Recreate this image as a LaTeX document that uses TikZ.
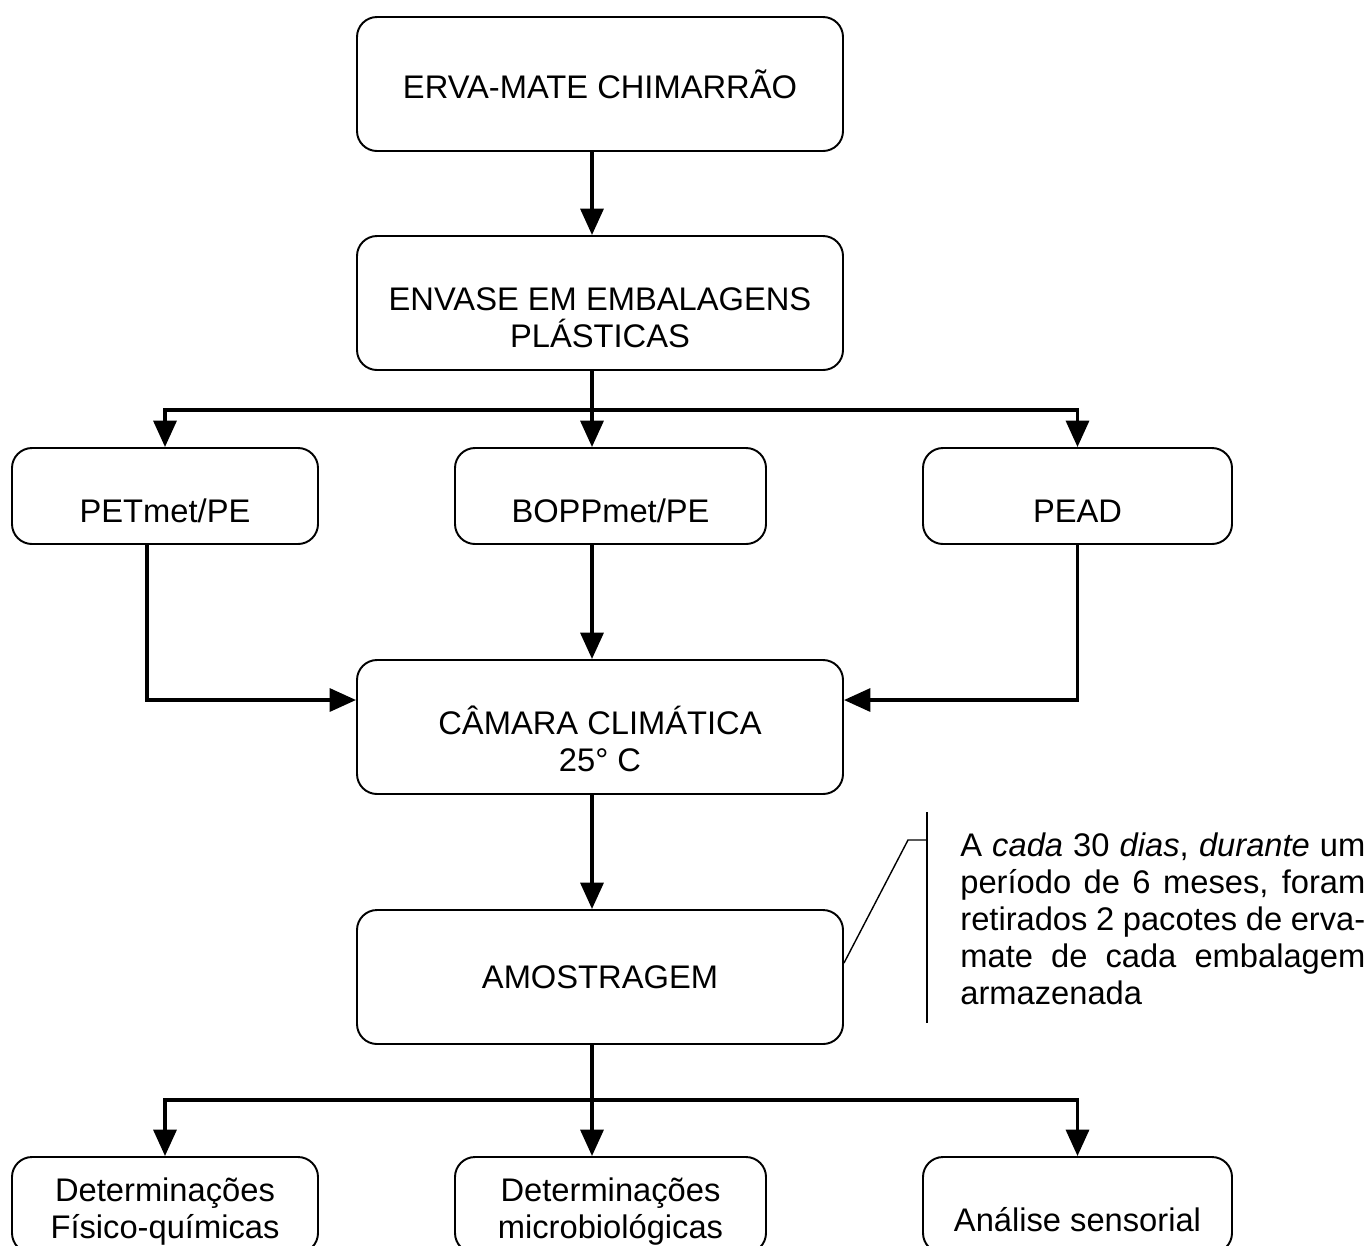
\documentclass[tikz,border=0pt]{standalone}
\usepackage{fontspec}
\setmainfont{Liberation Sans}
\usepackage{tikz}
\usetikzlibrary{arrows.meta, positioning, calc}

\begin{document}
\begin{tikzpicture}[
  box/.style={rectangle, draw, rounded corners=0.4cm, line width=1.1pt,
              minimum width=9.72cm, minimum height=2.68cm,
              font=\fontsize{18.6}{21}\selectfont, align=center},
  smallbox/.style={box, minimum height=1.92cm},
  twoline/.style={text height=50.4pt, text depth=0pt},
  oneline/.style={text height=30pt, text depth=0pt},
  twolinelow/.style={text height=37.8pt, text depth=0pt},
  arr/.style={-{Triangle[length=15pt, width=13pt]}, line width=2.1pt},
  bus/.style={line width=2.1pt},
  callout/.style={line width=0.8pt},
]
\useasboundingbox (0,0) rectangle (27.4,-24.9);

% main column
\node[box] (erva)   at (12.0,-1.68)  {ERVA-MATE CHIMARRÃO};
\node[box, twoline] (envase) at (12.0,-6.06)  {ENVASE EM EMBALAGENS\\PLÁSTICAS};
\node[box, twoline] (camara) at (12.0,-14.54) {CÂMARA CLIMÁTICA\\25° C};
\node[box] (amostra) at (12.0,-19.54) {AMOSTRAGEM};

% packaging
\node[smallbox, oneline, minimum width=6.12cm] (pet)  at (3.3,-9.92)   {PETmet/PE};
\node[smallbox, oneline, minimum width=6.22cm] (bopp) at (12.21,-9.92) {BOPPmet/PE};
\node[smallbox, oneline, minimum width=6.18cm] (pead) at (21.55,-9.92) {PEAD};

% analyses
\node[smallbox, twolinelow, minimum width=6.12cm] (fisqui) at (3.3,-24.1)   {Determinações\\Físico-químicas};
\node[smallbox, twolinelow, minimum width=6.22cm] (micro)  at (12.21,-24.1) {Determinações\\microbiológicas};
\node[smallbox, oneline, minimum width=6.18cm]    (sens)   at (21.55,-24.1) {Análise sensorial};

% connectors
\coordinate (bus1) at (11.84,-8.2);
\coordinate (bus2) at (11.84,-22.0);
\draw[arr] (erva.south -| bus1) -- (envase.north -| bus1);
\draw[bus] (envase.south -| bus1) -- (bus1);
\draw[arr] (bus1) -| (pet.north);
\draw[arr] (bus1) -| (pead.north);
\draw[arr] (bus1) -- (bopp.north -| bus1);
\draw[arr] ([xshift=-0.36cm]pet.south) |- ([yshift=0.54cm]camara.west);
\draw[arr] (pead.south) |- ([yshift=0.54cm]camara.east);
\draw[arr] (bopp.south -| bus1) -- (camara.north -| bus1);
\draw[arr] (camara.south -| bus1) -- (amostra.north -| bus1);
\draw[bus] (amostra.south -| bus1) -- (bus2);
\draw[arr] (bus2) -| (fisqui.north);
\draw[arr] (bus2) -| (sens.north);
\draw[arr] (bus2) -- (micro.north -| bus2);

% note
\node[anchor=west, inner sep=0pt, text width=8.1cm, align=justify,
      font=\fontsize{18.6}{21}\selectfont] (nota) at (19.2,-18.38)
  {A \textit{cada} 30 \textit{dias}, \textit{durante} um\linebreak
   período de 6 meses, foram\linebreak
   retirados 2 pacotes de erva-\linebreak
   mate de cada embalagem\linebreak
   armazenada};
\coordinate (brtop) at (18.54,-16.24);
\coordinate (brbot) at (18.54,-20.46);
\draw[callout] (brtop) -- (brbot);
\draw[callout] ([yshift=0.28cm]amostra.east) -- (18.16,-16.8) -- (18.54,-16.8);
\end{tikzpicture}
\end{document}
